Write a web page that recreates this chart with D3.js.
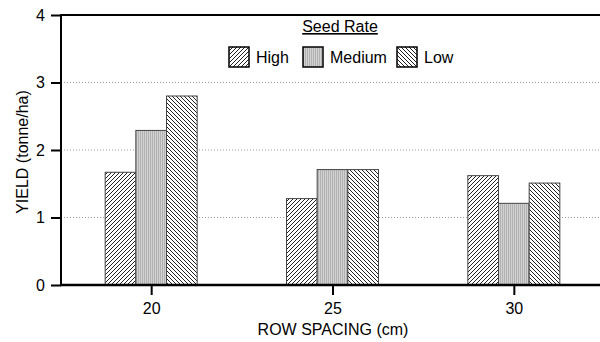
<!DOCTYPE html>
<html>
<head>
<meta charset="utf-8">
<script src="https://cdn.jsdelivr.net/npm/d3@7"></script>
<style>
  body { margin: 0; background: #fff; }
  svg { display: block; font-family: Arial, "Liberation Sans", sans-serif; }
</style>
</head>
<body>
<div id="chart"></div>
<script>
const spacings = [20, 25, 30];
const seedRates = ['High', 'Medium', 'Low'];
const highYield = [1.67, 1.28, 1.62];
const mediumYield = [2.29, 1.71, 1.21];
const lowYield = [2.80, 1.71, 1.51];
const yTicks = [0, 1, 2, 3, 4];

const width = 600, height = 342;
const plotLeft = 61, plotTop = 15, plotBottom = 285;

const svg = d3.select('#chart').append('svg')
  .attr('width', width).attr('height', height);

// hatch patterns
const defs = svg.append('defs');
const pHigh = defs.append('pattern').attr('id', 'p-high')
  .attr('patternUnits', 'userSpaceOnUse').attr('width', 4).attr('height', 4);
pHigh.append('rect').attr('width', 4).attr('height', 4).attr('fill', '#fff');
pHigh.append('path').attr('d', 'M-1,1 L1,-1 M0,4 L4,0 M3,5 L5,3')
  .attr('stroke', '#222').attr('stroke-width', 1);

const pMed = defs.append('pattern').attr('id', 'p-medium')
  .attr('patternUnits', 'userSpaceOnUse').attr('width', 2).attr('height', 2);
pMed.append('rect').attr('width', 2).attr('height', 2).attr('fill', '#d2d2d2');
pMed.append('rect').attr('width', 1).attr('height', 2).attr('fill', '#b2b2b2');

const pLow = defs.append('pattern').attr('id', 'p-low')
  .attr('patternUnits', 'userSpaceOnUse').attr('width', 4).attr('height', 4);
pLow.append('rect').attr('width', 4).attr('height', 4).attr('fill', '#fff');
pLow.append('path').attr('d', 'M-1,3 L1,5 M0,0 L4,4 M3,-1 L5,1')
  .attr('stroke', '#222').attr('stroke-width', 1);

const fills = { High: 'url(#p-high)', Medium: 'url(#p-medium)', Low: 'url(#p-low)' };
const values = { High: highYield, Medium: mediumYield, Low: lowYield };

const x = d3.scaleLinear().domain([17.5, 32.5]).range([60.5, 604.5]);
const y = d3.scaleLinear().domain([0, 4]).range([plotBottom, plotTop]);
const inner = d3.scaleBand().domain(seedRates).range([-46, 46]);

// gridlines
svg.append('g').selectAll('line')
  .data([1, 2, 3])
  .join('line')
  .attr('x1', plotLeft).attr('x2', width)
  .attr('y1', d => y(d)).attr('y2', d => y(d))
  .attr('stroke', '#9a9a9a').attr('stroke-dasharray', '1,2');

// bars
const rows = [];
spacings.forEach((s, i) => seedRates.forEach(r => rows.push({ s, r, v: values[r][i] })));
svg.append('g').selectAll('rect')
  .data(rows)
  .join('rect')
  .attr('x', d => x(d.s) + inner(d.r))
  .attr('width', inner.bandwidth())
  .attr('y', d => y(d.v))
  .attr('height', d => y(0) - y(d.v))
  .attr('fill', d => fills[d.r])
  .attr('stroke', '#444').attr('stroke-width', 1);

// top frame line
svg.append('line')
  .attr('x1', plotLeft).attr('x2', width).attr('y1', y(4)).attr('y2', y(4))
  .attr('stroke', '#000').attr('stroke-width', 2);

// y axis
const yAxis = svg.append('g')
  .attr('transform', `translate(${plotLeft},0)`)
  .call(d3.axisLeft(y).tickValues(yTicks).tickFormat(d3.format('d')).tickSize(10).tickPadding(6));
yAxis.select('.domain').attr('stroke-width', 2).attr('d', `M0,${plotTop - 1}V${plotBottom + 1}`);
yAxis.selectAll('.tick line').attr('stroke-width', 2);
yAxis.selectAll('.tick text').attr('font-size', 16).attr('fill', '#000')
  .attr('font-family', 'Arial, "Liberation Sans", sans-serif');

// x axis
const xAxis = svg.append('g')
  .attr('transform', `translate(0,${plotBottom})`)
  .call(d3.axisBottom(x).tickValues(spacings).tickSize(10).tickPadding(8));
xAxis.select('.domain').attr('stroke-width', 2.5).attr('d', `M${plotLeft - 1},0H${width}`);
xAxis.selectAll('.tick line').attr('stroke-width', 2);
xAxis.selectAll('.tick text').attr('font-size', 16).attr('fill', '#000')
  .attr('font-family', 'Arial, "Liberation Sans", sans-serif');

// axis titles
svg.append('text')
  .attr('x', 333).attr('y', 335)
  .attr('text-anchor', 'middle').attr('font-size', 16)
  .text('ROW SPACING (cm)');
svg.append('text')
  .attr('transform', 'translate(28,152) rotate(-90)')
  .attr('text-anchor', 'middle').attr('font-size', 16)
  .text('YIELD (tonne/ha)');

// legend
svg.append('text')
  .attr('x', 340).attr('y', 32)
  .attr('text-anchor', 'middle').attr('font-size', 16)
  .attr('text-decoration', 'underline')
  .text('Seed Rate');

const legendX = { High: 229, Medium: 303, Low: 397 };
const leg = svg.append('g').selectAll('g')
  .data(seedRates)
  .join('g')
  .attr('transform', d => `translate(${legendX[d]},47)`);
leg.append('rect')
  .attr('width', 20).attr('height', 20)
  .attr('fill', d => fills[d])
  .attr('stroke', '#000').attr('stroke-width', 1.5);
leg.append('text')
  .attr('x', 27).attr('y', 16)
  .attr('font-size', 16)
  .text(d => d);
</script>
</body>
</html>
